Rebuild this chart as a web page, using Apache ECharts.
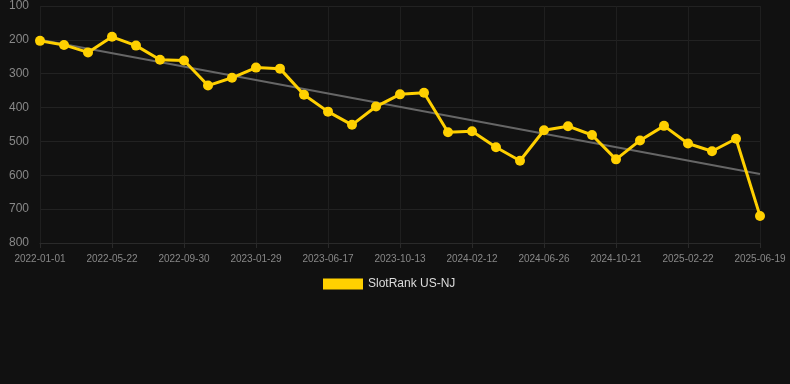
<!DOCTYPE html>
<html>
<head>
<meta charset="utf-8">
<script src="https://cdn.jsdelivr.net/npm/echarts@6/dist/echarts.min.js"></script>
<style>
html,body{margin:0;padding:0;background:#111111;}
#c{width:790px;height:384px;}
</style>
</head>
<body>
<div id="c"></div>
<script>
var categories = ['2022-01-01','2022-02-17','2022-04-05','2022-05-22','2022-07-05','2022-08-17','2022-09-30','2022-11-09','2022-12-20','2023-01-29','2023-03-17','2023-05-02','2023-06-17','2023-07-28','2023-09-01','2023-10-13','2023-11-22','2024-01-02','2024-02-12','2024-03-30','2024-05-13','2024-06-26','2024-08-05','2024-09-13','2024-10-21','2024-12-02','2025-01-12','2025-02-22','2025-04-03','2025-05-12','2025-06-19'];
var rankValues = [203,215,237,191,217,259,261,335,312,282,285,362,412,451,397,361,356,473,470,517,557,467,455,481,553,497,454,506,529,492,720];
var trendStart = 200;
var trendEnd = 596;
var yTicks = [100,200,300,400,500,600,700,800];

var trendData = categories.map(function(c, i){
  if (i === 0) return trendStart;
  if (i === categories.length - 1) return trendEnd;
  return null;
});

var chart = echarts.init(document.getElementById('c'), null, {renderer:'canvas'});
chart.setOption({
  backgroundColor: '#111111',
  animation: false,
  grid: {left: 40, right: 30, top: 6, bottom: 141},
  legend: {
    data: ['SlotRank US-NJ'],
    top: 278,
    left: 323,
    itemWidth: 40,
    itemHeight: 11,
    icon: 'rect',
    textStyle: {color: '#dddddd', fontSize: 12, fontFamily: 'Arial, Liberation Sans, sans-serif'},
    padding: 0
  },
  xAxis: {
    type: 'category',
    data: categories,
    boundaryGap: false,
    axisLine: {show: true, lineStyle: {color: '#2a2a2a'}},
    axisTick: {show: true, interval: 2, lineStyle: {color: '#2a2a2a'}},
    axisLabel: {interval: 2, color: '#888888', fontSize: 10, margin: 11, fontFamily: 'Arial, Liberation Sans, sans-serif'},
    splitLine: {show: true, interval: 2, lineStyle: {color: '#1f1f1f'}}
  },
  yAxis: {
    type: 'value',
    inverse: true,
    min: yTicks[0],
    max: yTicks[yTicks.length-1],
    interval: 100,
    axisLine: {show: false},
    axisTick: {show: false},
    axisLabel: {color: '#888888', fontSize: 12, margin: 11, fontFamily: 'Arial, Liberation Sans, sans-serif'},
    splitLine: {show: true, lineStyle: {color: '#222222'}}
  },
  series: [
    {
      name: 'Trend',
      type: 'line',
      data: trendData,
      connectNulls: true,
      symbol: 'none',
      lineStyle: {color: '#666666', width: 2},
      z: 1,
      silent: true
    },
    {
      name: 'SlotRank US-NJ',
      type: 'line',
      data: rankValues,
      symbol: 'circle',
      symbolSize: 10,
      itemStyle: {color: '#ffd000'},
      lineStyle: {color: '#ffd000', width: 3},
      z: 3
    }
  ]
});
</script>
</body>
</html>
